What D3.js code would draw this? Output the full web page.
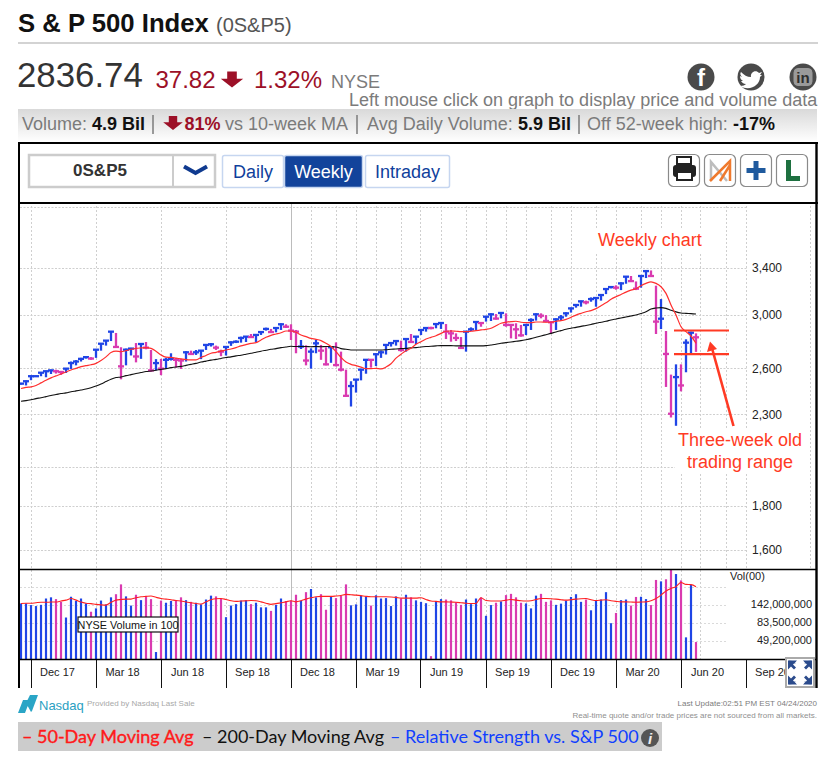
<!DOCTYPE html>
<html><head><meta charset="utf-8">
<script src="https://cdn.jsdelivr.net/npm/d3@7/dist/d3.min.js"></script>
<style>html,body{margin:0;padding:0;background:#fff}svg{display:block}svg{font-family:"Liberation Sans",Arial,sans-serif}</style>
</head><body><div id="chart"></div>
<script>
const weekHigh=[2501,2517,2551,2551,2575,2584,2591,2591,2582,2602,2648,2658,2674,2686,2679,2738,2782,2805,2873,2858,2751,2741,2746,2782,2780,2790,2731,2665,2667,2674,2707,2672,2667,2722,2726,2731,2731,2773,2782,2763,2733,2758,2795,2802,2830,2835,2850,2848,2873,2899,2889,2901,2933,2925,2925,
2881,2805,2765,2743,2805,2768,2751,2756,2787,2719,2591,2512,2527,2596,2665,2665,2707,2726,2773,2787,2805,2800,2817,2850,2835,2886,2901,2906,2933,2941,2927,2881,2855,2827,2873,2901,2949,2941,2990,3012,3006,3020,3012,2925,2933,2920,2925,2972,3012,3012,2998,2951,2972,
2998,3020,3058,3085,3116,3116,3143,3143,3168,3220,3237,3246,3272,3328,3328,3280,3337,3378,3378,3243,3129,2873,2557,2628,2628,2810,2868,2855];
const weekLow=[2490,2484,2519,2541,2546,2539,2561,2564,2555,2568,2596,2621,2648,2669,2660,2674,2726,2763,2797,2746,2525,2621,2691,2642,2667,2736,2577,2586,2553,2602,2655,2605,2596,2648,2695,2695,2665,2731,2756,2731,2686,2691,2761,2782,2785,2790,2820,2790,2843,2876,2860,2863,2881,2896,2805,
2707,2738,2621,2598,2707,2660,2621,2639,2614,2579,2412,2348,2437,2518,2563,2605,2616,2674,2698,2756,2763,2719,2719,2785,2775,2842,2868,2886,2894,2889,2812,2792,2797,2741,2719,2873,2881,2906,2946,2951,2962,2972,2906,2817,2812,2830,2842,2881,2954,2972,2941,2855,2881,
2952,2985,3018,3058,3066,3085,3107,3066,3116,3171,3220,3208,3205,3260,3277,3205,3226,3310,3322,2850,2888,2474,2280,2230,2445,2573,2707,2717];
const weekClose=[2496,2512,2546,2546,2570,2580,2586,2580,2575,2598,2637,2648,2667,2679,2669,2733,2777,2800,2868,2753,2614,2733,2741,2684,2775,2748,2586,2637,2598,2660,2667,2660,2655,2714,2702,2714,2726,2768,2773,2748,2719,2753,2787,2792,2820,2830,2827,2843,2865,2889,2865,2896,2925,2906,2876,
2868,2756,2655,2719,2780,2726,2628,2751,2623,2591,2416,2480,2523,2591,2660,2660,2700,2714,2768,2782,2797,2731,2812,2790,2830,2881,2896,2896,2927,2935,2868,2855,2820,2746,2868,2886,2943,2935,2985,3004,2970,3015,2920,2920,2886,2840,2920,2959,3004,2993,2951,2941,2964,
2980,3012,3052,3080,3110,3102,3129,3138,3163,3214,3231,3226,3263,3322,3283,3217,3328,3372,3328,2946,2969,2702,2303,2540,2484,2785,2860,2825];
const weekDirection="uuuuuuu dd uuuuu d uuuu dd uu d u dd u d uu dd u d uuuu dd uuuuu d uuu d uu ddd u d uu dd u ddd uuuu d uuuuu d u d uuu d uu dddd uuu d uu d u dddd uuu ddd uuuuuu d uuuuu d uu dd uu dd u dd u d uu d".replace(/ /g,"");
const tenWeekAvg=[2464,2471,2475,2484,2501,2519,2535,2548,2561,2575,2589,2600,2612,2619,2625,2635,2655,2681,2712,2722,2719,2726,2736,2743,2746,2748,2743,2722,2695,2679,2677,2672,2667,2662,2660,2660,2677,2691,2707,2714,2722,2731,2738,2748,2761,2770,2780,2785,2805,2825,2840,2850,2860,2873,2873,
2863,2842,2830,2817,2810,2800,2780,2756,2719,2677,2644,2628,2619,2609,2598,2598,2600,2596,2609,2632,2672,2700,2726,2743,2773,2792,2812,2825,2837,2855,2871,2873,2871,2868,2868,2871,2876,2881,2886,2894,2914,2933,2941,2946,2949,2941,2938,2938,2943,2943,2941,2941,2949,2954,2964,
2980,2998,3012,3025,3034,3050,3074,3098,3127,3149,3168,3188,3205,3217,3243,3263,3277,3263,3234,3177,3080,2998,2906,2868,2835,2780];
const fortyWeekAvg=[2381,2385,2391,2398,2404,2411,2418,2424,2431,2435,2442,2448,2454,2460,2469,2480,2494,2510,2526,2537,2541,2550,2557,2564,2571,2578,2582,2587,2593,2598,2605,2609,2614,2621,2628,2635,2644,2651,2658,2663,2670,2677,2681,2688,2693,2700,2707,2714,2722,2729,2736,2741,2748,2753,2758,
2756,2756,2756,2755,2756,2755,2756,2756,2753,2741,2736,2731,2731,2731,2731,2731,2731,2731,2733,2736,2738,2741,2743,2746,2748,2753,2756,2758,2761,2763,2763,2763,2761,2761,2761,2761,2761,2761,2763,2768,2773,2780,2785,2790,2795,2800,2807,2815,2825,2835,2845,2855,2866,2876,
2886,2894,2901,2909,2916,2924,2933,2941,2949,2959,2967,2975,2983,2991,2999,3010,3024,3047,3055,3058,3052,3037,3024,3015,3012,3010,3007];
const weekVolume=[147,147,140,136,141,170,176,167,154,97,179,158,170,147,115,127,160,143,176,193,258,181,138,190,162,179,167,35,160,150,158,162,176,162,154,150,143,165,185,181,170,98,138,144,160,162,144,150,131,131,118,141,170,158,160,
190,160,205,225,176,193,122,179,172,183,258,139,143,183,179,138,187,170,172,136,181,170,190,176,161,154,148,31,158,167,165,161,152,141,165,144,170,176,102,140,150,156,188,195,176,150,147,127,185,195,154,161,141,146,160,
178,193,154,165,120,162,165,205,82,111,162,165,138,178,179,167,140,294,282,300,400,350,290,54,253,47];
const volumeAvg=[147,148,148,150,152,152,153,153,158,162,170,162,153,148,146,143,141,140,152,162,165,167,167,174,179,181,183,176,170,167,164,160,158,153,150,147,144,154,164,169,170,165,159,156,158,159,160,159,154,148,143,146,150,154,159,
154,159,167,174,179,181,181,181,183,186,192,190,188,185,181,179,179,179,179,178,176,172,172,172,172,174,165,158,156,154,154,153,152,150,148,147,147,174,160,158,158,158,162,165,162,159,158,159,165,170,170,169,167,164,162,
164,167,169,170,164,160,162,164,159,156,154,154,153,152,153,154,159,170,188,212,229,241,273,258,256,241];
const priceGrid=[4000,3400,3000,2600,2300,2000,1800,1600];
const priceLabels=[3400,3000,2600,2300,1800,1600];
const volumeGrid=[241,142,83.5,49.2];
const volumeLabels=[142,83.5,49.2];
const quarterWeeks=[2,15,28,41,54,67,80,93,106,119,132,145];
const quarterNames=["Dec 17","Mar 18","Jun 18","Sep 18","Dec 18","Mar 19","Jun 19","Sep 19","Dec 19","Mar 20","Jun 20","Sep 20"];
const monthWeeks=[2,15,28,41,58,63,67,71,76,80,84,89,93,97,101,106,110,115,119,124,128,132,136,141,145,158];
const rangeLevels=[2877,2701];

const svg=d3.select("#chart").append("svg").attr("width",834).attr("height",766);
const x=d3.scaleLinear().domain([0,135]).range([21,696]);
const y=d3.scaleLog().domain([3400,1600]).range([268,550]);
const v=d3.scaleLog().domain([49.2,142]).range([640.5,604.6]);
const gx=i=>Math.floor(x(i))+0.5;
const blue="#1f45e6",mag="#d93ab0",gray="#7b7b7b",darkRed="#9c1027",grid="#cfcfcf",ann="#ff3a24";
const T=(s,px,py,size,fill,opt={})=>svg.append("text").attr("x",px).attr("y",py).attr("font-size",size).attr("fill",fill)
  .attr("font-weight",opt.bold?"bold":null).attr("text-anchor",opt.anchor||"start").style("font-family",opt.family||null).text(s);
const R=(a,b,w,h,fill,stroke,sw,r)=>svg.append("rect").attr("x",a).attr("y",b).attr("width",w).attr("height",h).attr("fill",fill||"none").attr("stroke",stroke||"none").attr("stroke-width",sw||0).attr("rx",r||0);
const L=(a,b,c,d,st,w,dash)=>svg.append("line").attr("x1",a).attr("y1",b).attr("x2",c).attr("y2",d).attr("stroke",st).attr("stroke-width",w||1).attr("stroke-dasharray",dash||null);

// header
T("S & P 500 Index",18,32,25.7,"#111",{bold:true});
T("(0S&P5)",216,32,20,"#555");
L(18,43,818,43,"#d3d3d3",2);
T("2836.74",17,87,34.8,"#333");
T("37.82",155.5,88,24,darkRed);
const downArrow=(cx,top,s,fill)=>svg.append("path").attr("fill",fill).attr("d",`M${cx-s*0.3} ${top}h${s*0.6}v${s*0.45}h${s*0.4}L${cx} ${top+s}L${cx-s*0.7} ${top+s*0.45}h${s*0.4}z`);
downArrow(232,71.5,16,darkRed);
T("1.32%",254,88,24,darkRed);
T("NYSE",331,88,18,gray);
T("Left mouse click on graph to display price and volume data",349,106,18,gray);
// social
[[701,77],[751,77],[803,77]].forEach(c=>svg.append("circle").attr("cx",c[0]).attr("cy",c[1]).attr("r",13.5).attr("fill","#4a4a4a"));
T("f",701,86,24,"#fff",{bold:true,anchor:"middle"});
svg.append("path").attr("fill","#fff").attr("d","M741 72c3 3 6 5 10 5c-1-5 5-8 8-4l3-1l-2 3l2 0l-2 2c0 8-10 15-20 9c3 0 5-1 6-2c-3 0-4-2-5-3h2c-2-1-3-3-3-5l2 1c-2-2-2-4-1-5z");
R(794,68.5,18,17,"#9a9a9a","#9a9a9a",1,4);
T("in",803,83,15,"#2e2e2e",{bold:true,anchor:"middle"});
// summary band
const defs=svg.append("defs");
const g=defs.append("linearGradient").attr("id","band").attr("x1",0).attr("y1",0).attr("x2",0).attr("y2",1);
g.append("stop").attr("offset",0).attr("stop-color","#d9d9d9");g.append("stop").attr("offset",1).attr("stop-color","#ffffff");
R(18,109,799,33,"url(#band)");
T("Volume:",22,130,18,gray);T("4.9 Bil",92,130,18,"#111",{bold:true});
L(153,115,153,134,gray,1.5);
downArrow(173,116,14,darkRed);
T("81%",184.5,130,18,darkRed,{bold:true});T("vs 10-week MA",225,130,18,gray);
L(357,115,357,134,gray,1.5);
T("Avg Daily Volume:",367,130,18,gray);T("5.9 Bil",518,130,18,"#111",{bold:true});
L(579,115,579,134,gray,1.5);
T("Off 52-week high:",587,130,18,gray);T("-17%",733,130,18,"#111",{bold:true});
// frame toolbar
R(29,155,186,32,"#fff","#cccccc",2.5);L(173,155,173,187,"#cccccc",2);
T("0S&P5",100,176,17,"#333",{bold:true,anchor:"middle"});
svg.append("path").attr("fill","none").attr("stroke","#0f3a8f").attr("stroke-width",4).attr("d","M184 166.5L195.5 173L207 166.5");
[[222.5,61,"Daily",false],[284.5,78,"Weekly",true],[365.5,84,"Intraday",false]].forEach(b=>{
  R(b[0],155.5,b[1],32,b[3]?"#12439b":"#fff","#c6d6f0",1.5,2);
  T(b[2],b[0]+b[1]/2,178,18,b[3]?"#fff":"#0f3f9c",{anchor:"middle"});
});
[669,705,741,777].forEach(a=>R(a-0.5,154.5,31,32,"#fff","#8a8a8a",1.2,5));
// printer
R(673,165,23,12,"#222",null,0,3);R(677,157,14,7,"#fff","#222",2);R(677,172,15,8,"#fff","#222",2);
// M
svg.append("path").attr("fill","none").attr("stroke","#bdbdbd").attr("stroke-width",2.5).attr("d","M711 181V162L727 181");
svg.append("path").attr("fill","none").attr("stroke","#ef7a2e").attr("stroke-width",2.5).attr("d","M710 181L730 161V181M720 181L730 165");
// plus, L
R(746.5,168,19,5,"#1f5a9e");R(753.5,161,5,19,"#1f5a9e");
svg.append("path").attr("fill","#1e7040").attr("d","M786 160h5v16h9v5h-14z");

// grid
const gridG=svg.append("g");
monthWeeks.forEach(w=>{const px=gx(w);
  const stop=w<=136?659:569;
  gridG.append("line").attr("x1",px).attr("x2",px).attr("y1",206).attr("y2",stop).attr("stroke",grid).attr("stroke-dasharray","2 2");
});
priceGrid.forEach(p=>{const py=Math.round(y(p))+0.5;gridG.append("line").attr("x1",20).attr("x2",748).attr("y1",py).attr("y2",py).attr("stroke",grid).attr("stroke-dasharray","2 1.5");});
volumeGrid.forEach(p=>{const py=Math.round(v(p))+0.5;gridG.append("line").attr("x1",20).attr("x2",726).attr("y1",py).attr("y2",py).attr("stroke","#dadada").attr("stroke-dasharray","2 2");});
L(gx(54),204,gx(54),659,"#bcbcbc",1);

// annotation boxes under marks
R(596,228,110,24,"#fff");
R(675,430,130,42,"#fff");

// price bars
const idx=d3.range(weekHigh.length);
const col=i=>weekDirection[i]==="u"?blue:mag;
const bars=svg.append("g");
bars.selectAll("line.stem").data(idx).join("line").attr("class","stem")
  .attr("x1",i=>x(i)).attr("x2",i=>x(i)).attr("y1",i=>y(weekHigh[i])).attr("y2",i=>y(weekLow[i])).attr("stroke",col).attr("stroke-width",2.3);
bars.selectAll("line.close").data(idx).join("line").attr("class","close")
  .attr("x1",i=>x(i)-3).attr("x2",i=>x(i)+3).attr("y1",i=>y(weekClose[i])).attr("y2",i=>y(weekClose[i])).attr("stroke",col).attr("stroke-width",2.3);
// moving averages
const lineP=d3.line().x((d,i)=>x(i)).y(d=>y(d)).curve(d3.curveMonotoneX);
svg.append("path").attr("d",lineP(fortyWeekAvg)).attr("fill","none").attr("stroke","#111").attr("stroke-width",1.1);
svg.append("path").attr("d",lineP(tenWeekAvg)).attr("fill","none").attr("stroke","#ff2e2e").attr("stroke-width",1.2);
// volume bars
svg.append("g").selectAll("line").data(idx).join("line").attr("x1",i=>x(i)).attr("x2",i=>x(i))
  .attr("y1",i=>v(weekVolume[i])).attr("y2",659).attr("stroke",col).attr("stroke-width",2.2);
const lineV=d3.line().x((d,i)=>x(i)).y(d=>v(d)).curve(d3.curveMonotoneX);
svg.append("path").attr("d",lineV(volumeAvg)).attr("fill","none").attr("stroke","#ff2020").attr("stroke-width",1.1);
R(78,617,100,15,"#fff","#111",1.2);
T("NYSE Volume in 100",128,628.5,10.8,"#111",{anchor:"middle"});

// annotations
rangeLevels.forEach(p=>L(674,y(p),729,y(p),ann,2.2));
L(733.5,426,712.5,350,ann,2.6);
svg.append("path").attr("fill",ann).attr("d","M710 341.5L717 349L707 352z");
T("Weekly chart",598,246,18,ann);
T("Three-week old",740,446,18,ann,{anchor:"middle"});
T("trading range",740,468,18,ann,{anchor:"middle"});

// axes
const yAxis=d3.axisRight(y).tickValues(priceLabels).tickSize(0).tickFormat(d3.format(","));
const ya=svg.append("g").attr("transform","translate(749,0)").call(yAxis);
ya.select(".domain").remove();ya.attr("font-family",null);ya.selectAll("text").attr("font-size",12).attr("fill","#222").attr("x",3);
const vLab=d=>d3.format(",")(d*1e6);
const vAxis=d3.axisLeft(v).tickValues(volumeLabels).tickSize(0).tickFormat(vLab);
const va=svg.append("g").attr("transform","translate(812,-0.5)").call(vAxis);
va.select(".domain").remove();va.attr("font-family",null);va.selectAll("text").attr("font-size",11).attr("fill","#222").attr("x",0);
T("Vol(00)",730,580,11,"#222");
const qx=d3.axisBottom(x).tickValues(quarterWeeks).tickSize(29).tickFormat((d,i)=>quarterNames[i]);
const xa=svg.append("g").attr("transform","translate(0,659)").call(qx);
xa.select(".domain").remove();xa.attr("font-family",null);
xa.selectAll("line").attr("stroke","#111");
xa.selectAll("text").attr("font-size",11).attr("fill","#222").attr("y",9).attr("dy","0.71em").attr("x",26);
xa.selectAll(".tick").attr("transform",d=>`translate(${gx(d)},0)`);

// frame lines
const fr="#000";
L(19,142,19,688,fr,2);L(816.5,142,816.5,688,fr,2.4);
L(18,143,818,143,fr,2);L(18,203,818,203,fr,2);
L(19,569.5,817,569.5,fr,1.3);L(19,659.5,817,659.5,fr,1.3);

// expand button
R(786,658,28,29,"#fff","#aaa",2);
[[-1,-1],[1,-1],[-1,1],[1,1]].forEach(s=>{
  const cx=800+s[0]*3,cy=672.5+s[1]*3;
  svg.append("path").attr("fill","#2b4b8c").attr("d",`M${cx+s[0]*9} ${cy+s[1]*9}h${-s[0]*9}l${s[0]*3} ${-s[1]*3}l${-s[0]*2} 0z`);
  svg.append("path").attr("fill","#2b4b8c").attr("d",`M${cx+s[0]*9} ${cy+s[1]*9}v${-s[1]*9}l${-s[0]*3} ${s[1]*3}l${-s[0]*3} ${-s[1]*3}l${-s[0]*2} ${s[1]*2}l${s[0]*3} ${s[1]*3}l${-s[0]*3} ${s[1]*3}z`);
});

// footer
svg.append("path").attr("fill","#2aa5c6").attr("d","M18 713L23 700H30L25 713zM26 703L30 695H38L32 711L31 712z");
T("Nasdaq",39,710,13,"#2aa0c2");
T("Provided by Nasdaq Last Sale",87,706,8,"#a8a8a8");
T("Last Update:02:51 PM EST 04/24/2020",817,706,8,"#7c7c7c",{anchor:"end"});
T("Real-time quote and/or trade prices are not sourced from all markets.",817,718,8,"#8f8f8f",{anchor:"end"});
R(18,722,644,29,"#cccccc");
T("– 50-Day Moving Avg",22,743,18,"#ff1a1a",{family:"Lato"}).attr("stroke","#ff1a1a").attr("stroke-width",0.4);
T("– 200-Day Moving Avg",202,743,18,"#111",{family:"Lato"});
T("– Relative Strength vs. S&P 500",390,743,18,"#1040ff",{family:"Lato"});
svg.append("circle").attr("cx",650).attr("cy",738).attr("r",9).attr("fill","#555");
T("i",650,743.5,15,"#eee",{anchor:"middle",bold:true}).attr("font-style","italic");
</script></body></html>
